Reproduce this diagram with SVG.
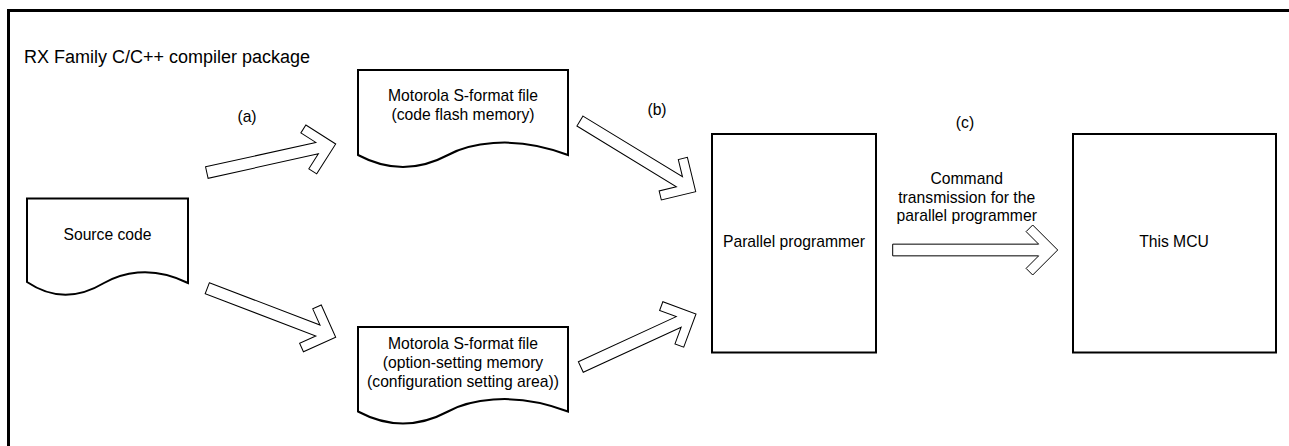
<svg xmlns="http://www.w3.org/2000/svg" width="1289" height="446" viewBox="0 0 1289 446">
<style>
.frame{fill:none;stroke:#000;stroke-width:3}
.box{fill:#fff;stroke:#000;stroke-width:2}
.arw{fill:#fff;stroke:#000;stroke-width:1}
text{font-family:"Liberation Sans",Arial,sans-serif;font-size:15.7px;fill:#000}
.c{text-anchor:middle}
.title{font-size:18px}
</style>
<rect width="1289" height="446" fill="#fff"/>
<rect class="frame" x="8.5" y="10.5" width="1300" height="450"/>
<text class="title" x="24" y="63">RX Family C/C++ compiler package</text>

<g id="source-code">
<path class="box" d="M188,198.5 H27 V282 Q64,307 104,283 C120,274 150,264 188,283 Z"/>
<text class="c" x="107.5" y="239.5">Source code</text>
</g>

<g id="code-flash-file">
<path class="box" d="M568,70 H358 V155 Q403,179 448,155 C466,145 511,133 568,155 Z"/>
<text class="c" x="463" y="101">Motorola S-format file</text>
<text class="c" x="463" y="119.5">(code flash memory)</text>
</g>

<g id="option-setting-file">
<path class="box" d="M568,327 H358 V411.5 Q403,435.5 448,411.5 C466,401.5 511,389.5 568,411.5 Z"/>
<text class="c" x="463" y="349">Motorola S-format file</text>
<text class="c" x="463" y="368">(option-setting memory</text>
<text class="c" x="463" y="387">(configuration setting area))</text>
</g>

<g id="parallel-programmer">
<rect class="box" x="712" y="134" width="164" height="218.5"/>
<text class="c" x="794" y="247">Parallel programmer</text>
</g>

<g id="mcu">
<rect class="box" x="1073" y="134" width="203" height="218.5"/>
<text class="c" x="1174" y="247">This MCU</text>
</g>

<g id="connectors">
<polygon class="arw" transform="translate(335.7,144) rotate(-12.5)" points="-132,-5.85 -19.05,-5.85 -31.6,-18.4 -25,-25 0,0 -25,25 -31.6,18.4 -19.05,5.85 -132,5.85"/>
<polygon class="arw" transform="translate(335.7,337.3) rotate(20.9)" points="-137.5,-5.85 -19.05,-5.85 -31.6,-18.4 -25,-25 0,0 -25,25 -31.6,18.4 -19.05,5.85 -137.5,5.85"/>
<polygon class="arw" transform="translate(695.7,191.7) rotate(31.4)" points="-135.6,-5.85 -19.05,-5.85 -31.6,-18.4 -25,-25 0,0 -25,25 -31.6,18.4 -19.05,5.85 -135.6,5.85"/>
<polygon class="arw" transform="translate(696,314) rotate(-24.7)" points="-126.8,-5.85 -19.05,-5.85 -31.6,-18.4 -25,-25 0,0 -25,25 -31.6,18.4 -19.05,5.85 -126.8,5.85"/>
<polygon class="arw" transform="translate(1057.7,250)" points="-165,-5.85 -19.05,-5.85 -31.6,-18.4 -25,-25 0,0 -25,25 -31.6,18.4 -19.05,5.85 -165,5.85"/>
<text class="c" x="247" y="122">(a)</text>
<text class="c" x="657" y="115">(b)</text>
<text class="c" x="965" y="128">(c)</text>
<text class="c" x="966.7" y="184">Command</text>
<text class="c" x="966.7" y="202.5">transmission for the</text>
<text class="c" x="966.7" y="221">parallel programmer</text>
</g>
</svg>
